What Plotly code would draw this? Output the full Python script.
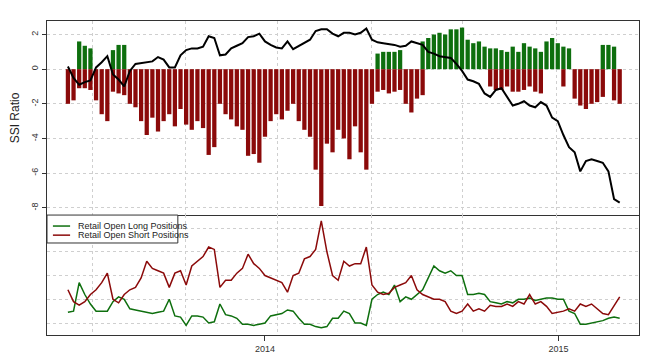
import pandas as pd
import plotly.graph_objects as go
from plotly.subplots import make_subplots

# ---------------- data (weekly readings from the chart) ----------------
week_dates = pd.date_range("2013-05-01", periods=99, freq="7D")

ssi_long = [0, 0, 1.6, 1.35, 1.2, 0, 0, 0, 1.1, 1.4,
            1.4, 0, 0, 0, 0, 0, 0, 0, 0, 0,
            0, 0, 0, 0, 0, 0, 0, 0, 0, 0,
            0, 0, 0, 0, 0, 0, 0, 0, 0, 0,
            0, 0, 0, 0, 0, 0, 0, 0, 0, 0,
            0, 0, 0, 0, 0, 0.9, 1.0, 1.0, 1.0, 1.1,
            0, 0, 0, 1.6, 1.8, 2.0, 2.1, 2.0, 2.3, 2.3,
            2.4, 1.7, 1.5, 1.6, 1.3, 1.2, 1.2, 1.1, 1.0, 1.3,
            1.0, 1.5, 1.3, 1.2, 1.0, 1.6, 1.8, 1.5, 1.3, 1.2,
            0, 0, 0, 0, 0, 1.4, 1.4, 1.3, 0]

ssi_short = [-2.0, -1.8, -1.1, -1.1, -1.2, -1.8, -2.6, -3.0, -1.3, -1.4,
             -1.5, -2.0, -2.2, -3.0, -3.8, -2.8, -3.6, -3.0, -2.6, -3.3,
             -2.3, -3.2, -3.5, -3.0, -3.4, -4.95, -4.5, -2.0, -2.6, -2.9,
             -3.3, -3.5, -5.0, -4.9, -5.4, -3.9, -3.0, -2.6, -2.9, -2.4,
             -2.0, -3.0, -3.5, -3.9, -5.8, -7.9, -4.3, -4.8, -3.5, -4.0,
             -5.2, -3.3, -4.8, -5.8, -2.0, -1.3, -1.2, -1.4, -1.3, -1.2,
             -2.0, -2.5, -1.7, -1.5, 0, 0, 0, 0, 0, 0,
             0, 0, 0, 0, 0, -1.0, -1.2, -1.2, -1.0, -1.3,
             -1.3, -1.2, -1.0, -1.3, -1.4, 0, 0, 0, -1.0, 0,
             -1.7, -2.1, -2.3, -2.0, -1.9, -1.6, 0, -1.8, -2.0]

price_scaled = [0.15, -0.5, -0.9, -0.75, -0.65, 0.1, 0.4, 0.75, -0.3, -0.6,
                -1.0, -0.1, 0.3, 0.35, 0.4, 0.45, 0.7, 0.55, 0.1, 0.1,
                0.8, 1.1, 1.2, 1.2, 1.3, 1.9, 1.8, 0.8, 0.85, 1.2,
                1.35, 1.5, 1.85, 1.9, 2.05, 1.6, 1.4, 1.25, 1.2, 1.6,
                1.15, 1.35, 1.55, 1.7, 2.2, 2.3, 2.3, 2.05, 1.9, 2.1,
                2.1, 2.0, 2.1, 2.35, 1.7, 1.55, 1.5, 1.45, 1.4, 1.3,
                1.35, 1.6, 1.5, 1.4, 1.0, 0.9, 0.75, 0.7, 0.65, 0.3,
                -0.1, -0.6, -0.7, -0.85, -1.4, -1.6, -1.2, -1.1, -1.6, -2.1,
                -2.0, -1.85, -2.1, -2.2, -1.9, -2.1, -2.8, -3.0, -3.8, -4.5,
                -4.8, -5.9, -5.3, -5.2, -5.3, -5.4, -5.9, -7.5, -7.7]

long_positions = [1.45, 1.5, 2.7, 2.2, 1.8, 1.5, 1.5, 1.5, 1.9, 2.1,
                  2.0, 1.6, 1.55, 1.5, 1.45, 1.4, 1.45, 1.5, 2.0, 1.3,
                  1.25, 0.9, 1.3, 1.3, 1.25, 1.0, 1.05, 1.8, 1.35, 1.3,
                  1.2, 0.95, 0.95, 0.9, 0.95, 1.0, 1.3, 1.35, 1.4, 1.55,
                  1.5, 1.2, 0.95, 0.95, 0.85, 0.8, 0.85, 1.2, 1.2, 1.5,
                  1.4, 1.0, 1.0, 0.9, 2.0, 2.2, 2.3, 2.2, 2.6, 1.9,
                  2.1, 2.0, 2.2, 2.4, 2.9, 3.4, 3.2, 3.1, 3.2, 3.0,
                  3.0, 2.2, 2.2, 2.25, 2.2, 1.9, 1.85, 1.8, 1.9, 1.85,
                  2.0, 2.0, 2.05, 1.95, 2.0, 2.05, 2.05, 2.0, 2.0, 1.5,
                  1.4, 0.95, 0.95, 1.0, 1.05, 1.1, 1.2, 1.25, 1.2]

short_positions = [2.4, 1.9, 1.75, 1.9, 2.2, 2.4, 2.7, 3.1, 2.0, 1.85,
                   2.2, 2.4, 2.5, 2.9, 3.6, 3.3, 3.2, 3.1, 2.5, 3.1,
                   3.2, 2.6, 3.4, 3.6, 3.8, 4.2, 4.1, 2.5, 2.8, 2.8,
                   3.1, 3.3, 3.9, 3.5, 3.3, 3.0, 2.9, 2.8, 2.7, 2.3,
                   3.0, 3.1, 3.7, 3.8, 4.1, 5.3, 4.0, 3.0, 2.8, 3.6,
                   3.4, 3.5, 3.5, 4.2, 2.6, 2.3, 2.2, 2.25, 2.5, 2.6,
                   2.7, 3.0, 2.4, 2.2, 2.1, 2.0, 2.0, 1.9, 1.5, 1.4,
                   1.5, 1.8, 1.5, 1.6, 1.5, 1.75, 1.7, 1.7, 1.8, 1.7,
                   1.9, 1.8, 2.2, 1.8, 1.9, 1.7, 1.4, 1.45, 1.5, 1.6,
                   1.5, 1.8, 1.7, 1.8, 1.6, 1.4, 1.35, 1.7, 2.1]

series_names = ["Retail Open Long Positions", "Retail Open Short Positions"]
ssi_tick_vals = [-8, -6, -4, -2, 0, 2]
ssi_tick_text = ["-8", "-6", "-4", "-2", "0", "2"]
year_tick_vals = ["2014-01-01", "2015-01-01"]
year_tick_text = ["2014", "2015"]

# ---------------- styling / layout ----------------
GREEN = "#0e6f0e"
RED = "#8b0a0a"
AXIS = "#333333"
GRID = "#cfcfcf"
DAY_MS = 86400000
grid_dates = ["2013-05-31", "2013-09-24", "2014-01-17", "2014-05-14", "2014-09-04", "2014-12-30"]
x_range = ["2013-04-05", "2015-04-11"]
font_family = "Arial, Liberation Sans, sans-serif"

fig = make_subplots(rows=2, cols=1, shared_xaxes=True, vertical_spacing=0,
                    row_heights=[0.618, 0.382])

fig.add_trace(go.Bar(x=week_dates, y=ssi_long, marker_color=GREEN, marker_line_width=0,
                     width=5.3 * DAY_MS, showlegend=False), row=1, col=1)
fig.add_trace(go.Bar(x=week_dates, y=ssi_short, marker_color=RED, marker_line_width=0,
                     width=5.3 * DAY_MS, showlegend=False), row=1, col=1)
fig.add_trace(go.Scatter(x=week_dates, y=price_scaled, mode="lines",
                         line=dict(color="black", width=2), showlegend=False), row=1, col=1)

fig.add_trace(go.Scatter(x=week_dates, y=long_positions, mode="lines", name=series_names[0],
                         line=dict(color=GREEN, width=1.5), showlegend=False), row=2, col=1)
fig.add_trace(go.Scatter(x=week_dates, y=short_positions, mode="lines", name=series_names[1],
                         line=dict(color=RED, width=1.5), showlegend=False), row=2, col=1)

# compact legend box (paper coordinates) in the top-left of the lower panel
legend_colors = [GREEN, RED]
legend_rows_y = [0.347, 0.318]
shapes = [dict(type="rect", xref="paper", yref="paper", x0=0, x1=0.221, y0=0.293, y1=0.382,
               line=dict(color=AXIS, width=1), fillcolor="white", layer="above")]
annotations = []
for name, col, yy in zip(series_names, legend_colors, legend_rows_y):
    shapes.append(dict(type="line", xref="paper", yref="paper", x0=0.010, x1=0.039, y0=yy, y1=yy,
                       line=dict(color=col, width=1.5), layer="above"))
    annotations.append(dict(xref="paper", yref="paper", x=0.049, y=yy, text=name, showarrow=False,
                            xanchor="left", yanchor="middle", font=dict(size=9, color="#222")))

minor_grid = dict(tickmode="array", tickvals=grid_dates, showgrid=True, gridcolor=GRID,
                  griddash="dot", gridwidth=1, ticks="")

# the page body adds an 8px margin, so the figure is sized to fit inside the 655x362 window
fig.update_layout(
    width=639, height=346,
    margin=dict(l=39, r=8, t=13, b=19, autoexpand=False),
    paper_bgcolor="white", plot_bgcolor="white",
    barmode="overlay",
    font=dict(family=font_family, color=AXIS, size=9),
    showlegend=False,
    shapes=shapes, annotations=annotations,
)

fig.update_xaxes(range=x_range, showgrid=False, zeroline=False, showline=True,
                 linecolor=AXIS, linewidth=1, minor=minor_grid, automargin=False)
fig.update_xaxes(showticklabels=False, ticks="", mirror=True, row=1, col=1)
fig.update_xaxes(tickmode="array", tickvals=year_tick_vals, ticktext=year_tick_text,
                 ticks="outside", ticklen=5, tickcolor=AXIS, tickfont=dict(size=9),
                 mirror=False, row=2, col=1)

fig.update_yaxes(range=[-8.42, 2.78], tickmode="array", tickvals=ssi_tick_vals,
                 ticktext=ssi_tick_text, tickangle=-90, ticks="outside", ticklen=4,
                 tickcolor=AXIS, tickfont=dict(size=9), showgrid=True, gridcolor=GRID,
                 griddash="dot", zeroline=False, showline=True, mirror=True,
                 linecolor=AXIS, linewidth=1, automargin=False,
                 title=dict(text="SSI Ratio", font=dict(size=12, color="#222"), standoff=10),
                 row=1, col=1)
fig.update_yaxes(range=[0.495, 5.547], tickmode="linear", tick0=0, dtick=1,
                 showticklabels=False, ticks="", showgrid=True, gridcolor=GRID,
                 griddash="dot", zeroline=False, showline=True, mirror=True,
                 linecolor=AXIS, linewidth=1, automargin=False, row=2, col=1)

fig.write_html("out.html")
